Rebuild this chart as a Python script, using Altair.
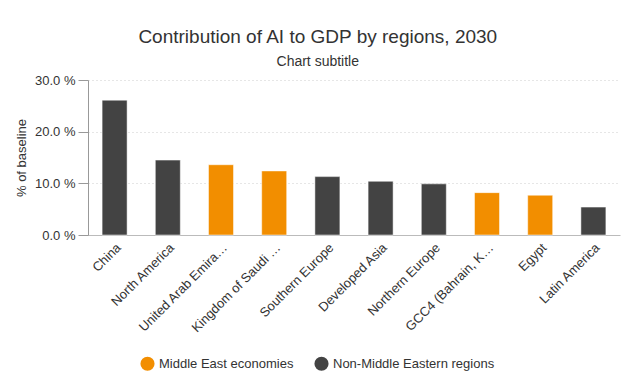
import altair as alt
import pandas as pd

regions = ["China", "North America", "United Arab Emirates", "Kingdom of Saudi Arabia",
           "Southern Europe", "Developed Asia", "Northern Europe",
           "GCC4 (Bahrain, Kuwait, Oman and Qatar)", "Egypt", "Latin America"]
values = [26.1, 14.5, 13.6, 12.4, 11.3, 10.4, 9.9, 8.2, 7.7, 5.4]
groups = ["Non-Middle Eastern regions", "Non-Middle Eastern regions", "Middle East economies",
          "Middle East economies", "Non-Middle Eastern regions", "Non-Middle Eastern regions",
          "Non-Middle Eastern regions", "Middle East economies", "Middle East economies",
          "Non-Middle Eastern regions"]

df = pd.DataFrame({"region": regions, "value": [v / 100 for v in values], "group": groups})

font = "Liberation Sans"

chart = alt.Chart(df).mark_bar(stroke="white", strokeWidth=0.5).encode(
    x=alt.X("region:N", sort=regions, title=None,
            scale=alt.Scale(paddingInner=0.53, paddingOuter=0.265),
            axis=alt.Axis(labelAngle=-45, labelFontSize=13, labelColor="#333333",
                          labelLimit=121, ticks=False, domainColor="#bbbbbb",
                          labelPadding=6, labelFont=font)),
    y=alt.Y("value:Q", title="% of baseline",
            scale=alt.Scale(domain=[0, 0.3]),
            axis=alt.Axis(values=[0, 0.1, 0.2, 0.3], labelFontSize=13,
                          labelColor="#333333", titleFontSize=13, titleColor="#333333",
                          titleFontWeight="normal", domainColor="#999999",
                          tickColor="#999999", tickSize=10, labelPadding=3, gridDash=[1, 3],
                          gridColor="#cccccc", labelFont=font, titleFont=font,
                          labelExpr="format(datum.value*100, '.1f') + ' %'",
                          titlePadding=6)),
    color=alt.Color("group:N",
                    scale=alt.Scale(domain=["Middle East economies", "Non-Middle Eastern regions"],
                                    range=["#F28E00", "#434343"]),
                    legend=alt.Legend(orient="none", direction="horizontal", title=None,
                                      symbolType="circle", legendX=52, legendY=276,
                                      symbolSize=200, labelFontSize=13, labelColor="#333333",
                                      labelFont=font, symbolStrokeWidth=0, columnPadding=20,
                                      labelLimit=300))
).properties(
    width=532, height=155,
    title=alt.TitleParams("Contribution of AI to GDP by regions, 2030", subtitle="Chart subtitle",
                          fontSize=19, fontWeight="normal", color="#333333", font=font,
                          subtitleFont=font, subtitleFontSize=14, subtitleColor="#333333",
                          anchor="middle", frame="bounds", offset=5, subtitlePadding=8),
    padding={"left": 7, "top": 20, "right": 5, "bottom": 5}
).configure_view(stroke=None).configure_axis(grid=True).configure_axisX(grid=False)

chart.save("out.html", embed_options={"renderer": "svg", "actions": False})
